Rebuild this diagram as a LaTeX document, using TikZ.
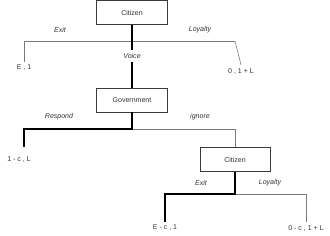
\documentclass[tikz,border=0pt]{standalone}
\usepackage{fontspec}
\setmainfont{Liberation Sans}
\usepackage{xcolor}
\definecolor{boxgray}{HTML}{3A3A3A}
\definecolor{thingray}{HTML}{7A7A7A}
\definecolor{txtgray}{HTML}{333333}
\usetikzlibrary{positioning}
\tikzset{
  pbox/.style ={rectangle, draw=boxgray, line width=0.6pt, fill=white, text=txtgray, align=center,
                minimum width=21.3mm, minimum height=7.2mm, inner sep=1pt, font=\fontsize{6}{7}\selectfont},
  thinbr/.style={line width=0.5pt, color=thingray},
  thickbr/.style={line width=1.8pt, color=black},
  actlbl/.style={font=\fontsize{6}{7}\selectfont\itshape, text=txtgray, inner sep=1pt},
  paylbl/.style={font=\fontsize{6}{7}\selectfont, text=txtgray, inner sep=2.5pt},
}

\begin{document}
\begin{tikzpicture}[x=0.3mm, y=-0.3mm]
  \useasboundingbox (0,0) rectangle (330,236);
  % first move: citizen
  \node[pbox] (cit1) at (132,12.5) {Citizen};
  \coordinate (j1) at (132,41); \coordinate (l1) at (24,41); \coordinate (r1) at (235,41);
  \node[actlbl] (exit1) at (60,30) {Exit};
  \node[actlbl] (loy1) at (200,30) {Loyalty};
  \node[actlbl, inner sep=3pt] (voice) at (132,56) {Voice};
  \node[paylbl] (pE1) at (24,68) {E , 1};
  \node[paylbl] (pL1) at (241,71) {0 , 1 + L};
  \draw[thinbr] (l1) -- (r1);
  \draw[thinbr] (l1) -- (pE1.north);
  \draw[thinbr] (r1) -- (pL1.north);
  \draw[thickbr] (cit1.south) -- (voice.north);
  % government
  \node[pbox] (gov) at (132,100) {Government};
  \draw[thickbr] (voice.south) -- (gov.north);
  \coordinate (j2) at (132,129); \coordinate (l2) at (24,129); \coordinate (r2) at (235,129);
  \coordinate (e2) at (24,147);
  \node[actlbl] (resp) at (59,117) {Respond};
  \node[actlbl] (ign) at (200,117) {ignore};
  \node[paylbl] (pR) at (19,160) {1 - c , L};
  \node[pbox, minimum width=21mm] (cit2) at (235,159.5) {Citizen};
  \draw[thinbr] (j2) -- (r2) -- (cit2.north);
  \draw[thickbr, line join=miter] (gov.south) -- (j2) -- (l2) -- (e2);
  % second move: citizen again
  \coordinate (j3) at (235,194); \coordinate (l3) at (165,194); \coordinate (r3) at (306,194);
  \node[actlbl] (exit2) at (201,183) {Exit};
  \node[actlbl] (loy2) at (270,183) {Loyalty};
  \node[paylbl] (pE2) at (165,228) {E - c , 1};
  \node[paylbl] (pL2) at (306,228) {0 - c , 1 + L};
  \draw[thinbr] (j3) -- (r3) -- (pL2.north);
  \draw[thickbr, line join=miter] (cit2.south) -- (j3) -- (l3) -- (pE2.north);
\end{tikzpicture}
\end{document}
